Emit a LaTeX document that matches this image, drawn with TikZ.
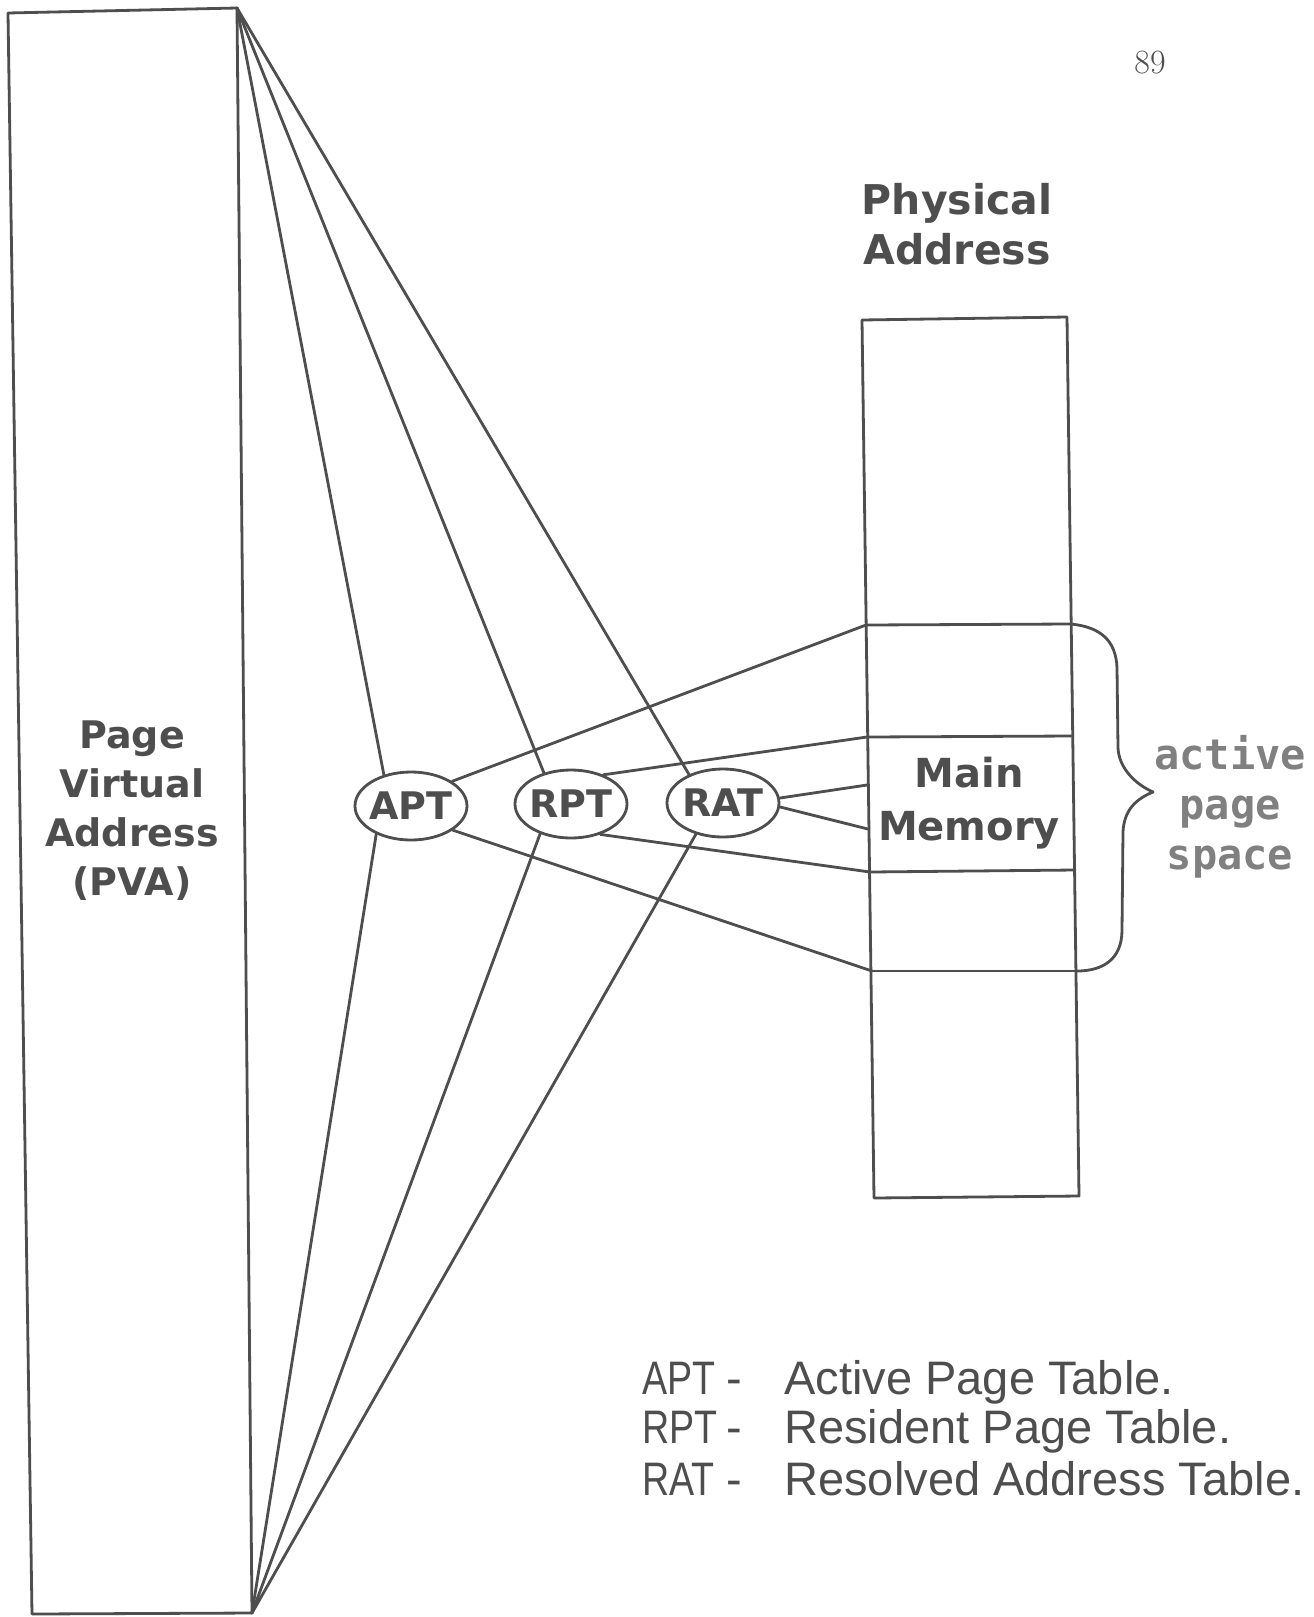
\documentclass[tikz,border=0pt]{standalone}
\usepackage{fontspec}
\usetikzlibrary{shapes.geometric}
\newfontfamily\lblfont{DejaVu Sans}
\newfontfamily\spacefont{DejaVu Sans Mono}
\newfontfamily\legfont{Liberation Sans}
\definecolor{ink}{RGB}{78,78,78}
\definecolor{softink}{RGB}{128,128,128}
% narrow abbreviation at the start of a legend line
\newcommand{\abbr}[1]{\rlap{\scalebox{0.8}[1]{#1}}\hspace*{46pt}\makebox[0pt]{-}\hspace*{25pt}}

\begin{document}
\begin{tikzpicture}[x=0.5pt,y=-0.5pt,line join=round,line cap=round,
  wire/.style={draw=ink,line width=1.4pt},
  tablenode/.style={ellipse,draw=ink,line width=1.4pt,minimum width=56pt,
    minimum height=34pt,inner sep=0pt,text=ink,
    font=\lblfont\bfseries\fontsize{19}{22}\selectfont},
  bigtext/.style={text=ink,align=center,inner sep=0pt,
    font=\lblfont\bfseries\fontsize{19}{24.5}\selectfont},
  legendline/.style={anchor=base west,inner sep=0pt,text=ink,
    font=\legfont\fontsize{23.5}{27}\selectfont}]

\useasboundingbox (0,0) rectangle (1313,1617);
\fill[white] (0,0) rectangle (1313,1617);

% page virtual address column
\coordinate (vTL) at (8,13);
\coordinate (vTR) at (237,8);
\coordinate (vBR) at (252,1613);
\coordinate (vBL) at (32,1614);
\draw[wire] (vTL) -- (vTR) -- (vBR) -- (vBL) -- cycle;
\node[bigtext] (pva) at (132,811) {Page\\Virtual\\Address\\(PVA)};

% page number
\node[text=ink,inner sep=0pt,font=\fontsize{17}{20}\selectfont] (pageno) at (1150,63) {89};

% physical address column
\coordinate (pTL) at (862,320);
\coordinate (pTR) at (1067,317);
\coordinate (pBR) at (1079,1196);
\coordinate (pBL) at (874,1198);
\draw[wire] (pTL) -- (pTR) -- (pBR) -- (pBL) -- cycle;
\node[bigtext,font=\lblfont\bfseries\fontsize{20.5}{25}\selectfont] (phys) at (957,224) {Physical\\Address};

% divisions of the active page space
\coordinate (d1L) at (866,625);  \coordinate (d1R) at (1071,624);
\coordinate (d2L) at (867,737);  \coordinate (d2R) at (1073,736);
\coordinate (d3L) at (870,872);  \coordinate (d3R) at (1075,870);
\coordinate (d4L) at (872,971);  \coordinate (d4R) at (1077,971);
\coordinate (mA) at (867,785);
\coordinate (mB) at (868,829);
\draw[wire] (d1L) -- (d1R);
\draw[wire] (d2L) -- (d2R);
\draw[wire] (d3L) -- (d3R);
\draw[wire] (d4L) -- (d4R);
\node[bigtext,font=\lblfont\bfseries\fontsize{20}{26.5}\selectfont] (mem) at (969,803) {Main\\Memory};

% brace over the active page space
\coordinate (tip) at (1153,792);
\draw[wire] (d1R) .. controls (1100,627) and (1116,640) .. (1117,668)
  -- (1118,748) .. controls (1119,768) and (1135,784) .. (tip)
  .. controls (1136,799) and (1124,810) .. (1123,832)
  -- (1122,930) .. controls (1122,960) and (1102,971) .. (d4R);
\node[text=softink,align=center,inner sep=0pt,
  font=\spacefont\bfseries\fontsize{21}{25}\selectfont] (aps) at (1230,807) {active\\page\\space};

% tables
\node[tablenode] (apt) at (411,806) {\makebox[0pt]{APT}};
\node[tablenode] (rpt) at (571,804) {\makebox[0pt]{RPT}};
\node[tablenode] (rat) at (723,803) {\makebox[0pt]{RAT}};

% fan from the virtual address column
\draw[wire] (vTR) -- (apt.131);
\draw[wire] (vTR) -- (rpt.131);
\draw[wire] (vTR) -- (rat.140);
\draw[wire] (vBR) -- (apt.219);
\draw[wire] (vBR) -- (rpt.224);
\draw[wire] (vBR) -- (rat.229);

% tables to physical memory
\draw[wire] (apt.31) -- (d1L);
\draw[wire] (apt.330) -- (d4L);
\draw[wire] (rpt.42) -- (d2L);
\draw[wire] (rpt.314) -- (d3L);
\draw[wire] (rat.5) -- (mA);
\draw[wire] (rat.356) -- (mB);

% legend
\node[legendline] (leg1) at (642,1394) {\abbr{APT}Active Page Table.};
\node[legendline] (leg2) at (642,1443) {\abbr{RPT}Resident Page Table.};
\node[legendline] (leg3) at (642,1495) {\abbr{RAT}Resolved Address Table.};
\end{tikzpicture}
\end{document}
